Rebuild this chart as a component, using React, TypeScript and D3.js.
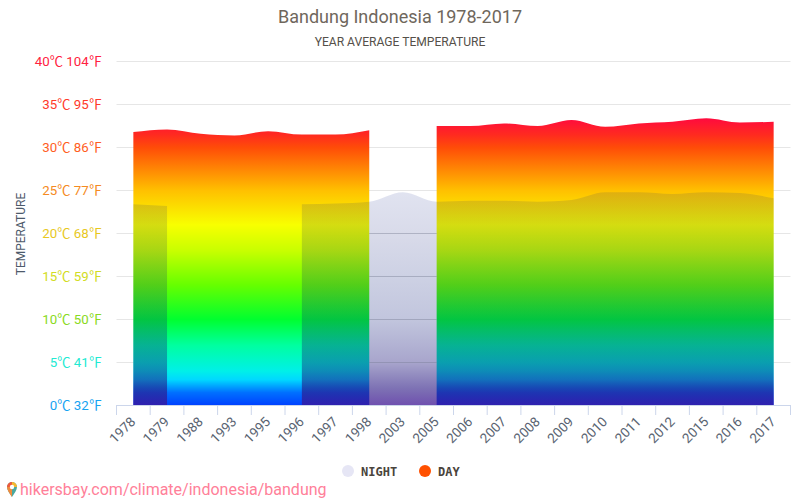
import React from "react";
import * as d3 from "d3";

const categories = ["1978", "1979", "1988", "1993", "1995", "1996", "1997", "1998", "2003", "2005", "2006", "2007", "2008", "2009", "2010", "2011", "2012", "2015", "2016", "2017"];
const dayValues = [31.8, 32.1, 31.6, 31.4, 31.9, 31.5, 31.5, 32.0, null, 32.5, 32.5, 32.8, 32.5, 33.2, 32.4, 32.8, 33.0, 33.4, 32.9, 33.0];
const nightValues = [23.4, 23.2, null, null, null, 23.4, 23.5, 23.7, 24.8, 23.7, 23.8, 23.8, 23.7, 23.9, 24.8, 24.8, 24.6, 24.8, 24.7, 24.1];
const yTicks = [0, 5, 10, 15, 20, 25, 30, 35, 40];
const yLabels = ["0℃ 32℉", "5℃ 41℉", "10℃ 50℉", "15℃ 59℉", "20℃ 68℉", "25℃ 77℉", "30℃ 86℉", "35℃ 95℉", "40℃ 104℉"];
const yLabelColors = ["#16a3f2", "#22ead2", "#8ada22", "#d2dc22", "#e8c81e", "#f58a22", "#ff5e1e", "#ff3a2a", "#ff2240"];

const dayStops: [number, string][] = [
  [34, "#ff0048"],
  [31.5, "#ff2a20"],
  [30, "#ff4c08"],
  [25, "#ffc000"],
  [21, "#f8ff00"],
  [18, "#c8ff00"],
  [14, "#66ff00"],
  [10, "#00ff30"],
  [7, "#00ffa0"],
  [4, "#00f0e8"],
  [3, "#00d8ff"],
  [1.5, "#0070ff"],
  [0, "#0040ff"],
];
const nightStops: [number, string, number][] = [
  [25, "#001985", 0.12],
  [20, "#000d71", 0.15],
  [15, "#051978", 0.2],
  [10, "#0a1878", 0.25],
  [5, "#1a1279", 0.38],
  [2, "#281482", 0.6],
  [0, "#401595", 0.75],
];

const x = d3.scaleBand<string>().domain(categories).range([116.5, 790.5]);
const y = d3.scaleLinear().domain([0, 40]).range([405.5, 61.5]);
const center = (i: number) => (x(categories[i]) as number) + x.bandwidth() / 2;

const areaGen = d3
  .area<number | null>()
  .defined((d) => d !== null)
  .x((_, i) => center(i))
  .y0(y(0))
  .y1((d) => y(d as number))
  .curve(d3.curveMonotoneX);

export default function App() {
  const gapLeft = center(categories.indexOf("1998"));
  const gapRight = center(categories.indexOf("2005"));
  return (
    <svg
      width={800}
      height={500}
      style={{ position: "absolute", left: 0, top: 0, fontFamily: "Roboto, sans-serif" }}
    >
      <defs>
        <linearGradient id="dayFill" gradientUnits="userSpaceOnUse" x1="0" x2="0" y1={y(34)} y2={y(0)}>
          {dayStops.map(([v, c]) => (
            <stop key={v} offset={(y(v) - y(34)) / (y(0) - y(34))} stopColor={c} />
          ))}
        </linearGradient>
        <linearGradient id="nightFill" gradientUnits="userSpaceOnUse" x1="0" x2="0" y1={y(25)} y2={y(0)}>
          {nightStops.map(([v, c, a]) => (
            <stop key={v} offset={(y(v) - y(25)) / (y(0) - y(25))} stopColor={c} stopOpacity={a} />
          ))}
        </linearGradient>
      </defs>

      <text x={400} y={23} textAnchor="middle" fontSize={18} fill="#6f675c">
        Bandung Indonesia 1978-2017
      </text>
      <text x={400} y={46} textAnchor="middle" fontSize={12.1} fill="#555049">
        YEAR AVERAGE TEMPERATURE
      </text>

      {yTicks.map((t, i) => (
        <g key={t}>
          {t > 0 && <line x1={116.5} x2={790.5} y1={y(t)} y2={y(t)} stroke="#e6e6e6" />}
          <text
            x={102}
            y={y(t) + 4.5}
            textAnchor="end"
            fontSize={13.3}
            fontFamily="Roboto, 'Noto Sans CJK SC', sans-serif"
            fill={yLabelColors[i]}
          >
            {yLabels[i]}
          </text>
        </g>
      ))}
      <text
        transform="translate(25,234) rotate(-90)"
        textAnchor="middle"
        fontSize={12}
        fill="#4d5a6b"
      >
        TEMPERATURE
      </text>

      <path d={areaGen(dayValues) ?? ""} fill="url(#dayFill)" />
      <path d={areaGen(nightValues) ?? ""} fill="url(#nightFill)" />
      {yTicks
        .filter((t) => t > 0 && t <= 20)
        .map((t) => (
          <line key={t} x1={gapLeft} x2={gapRight} y1={y(t)} y2={y(t)} stroke="#8a8fa5" strokeOpacity={0.35} />
        ))}

      <line x1={116.5} x2={790.5} y1={405.5} y2={405.5} stroke="#ccd6eb" />
      {[...categories.map((c) => x(c) as number), 790.5].map((t) => (
        <line key={t} x1={t} x2={t} y1={405} y2={415} stroke="#ccd6eb" />
      ))}
      {categories.map((c, i) => (
        <text
          key={c}
          transform={`translate(${center(i) + 0.5},${420}) rotate(-45)`}
          textAnchor="end"
          dominantBaseline="middle"
          fontSize={13.5}
          fill="#5a6472"
        >
          {c}
        </text>
      ))}

      <circle cx={348} cy={471} r={6} fill="#e6e6f5" />
      <text x={361} y={475.5} fontSize={12} fontWeight="bold" fontFamily="'DejaVu Sans Mono', monospace" fill="#4a443c">
        NIGHT
      </text>
      <circle cx={425} cy={471} r={6} fill="#ff5000" />
      <text x={438} y={475.5} fontSize={12} fontWeight="bold" fontFamily="'DejaVu Sans Mono', monospace" fill="#4a443c">
        DAY
      </text>

      <path d="M12 497 C9.5 493 7 490 7 487 A5 5 0 0 1 17 487 C17 490 14.5 493 12 497 Z" fill="#4aa8a0" />
      <path d="M7 487 A5 5 0 0 1 12 482 L12 487 Z" fill="#ef5a3c" />
      <path d="M12 482 A5 5 0 0 1 17 487 L12 487 Z" fill="#f6b830" />
      <path d="M7 487 C7 490 9.5 493 12 497 L12 487 Z" fill="#f08a3c" />
      <circle cx={12} cy={487} r={2.2} fill="#ffffff" />
      <text x={20} y={495} fontSize={16} fill="#ff8099">
        hikersbay.com/climate/indonesia/bandung
      </text>
    </svg>
  );
}
